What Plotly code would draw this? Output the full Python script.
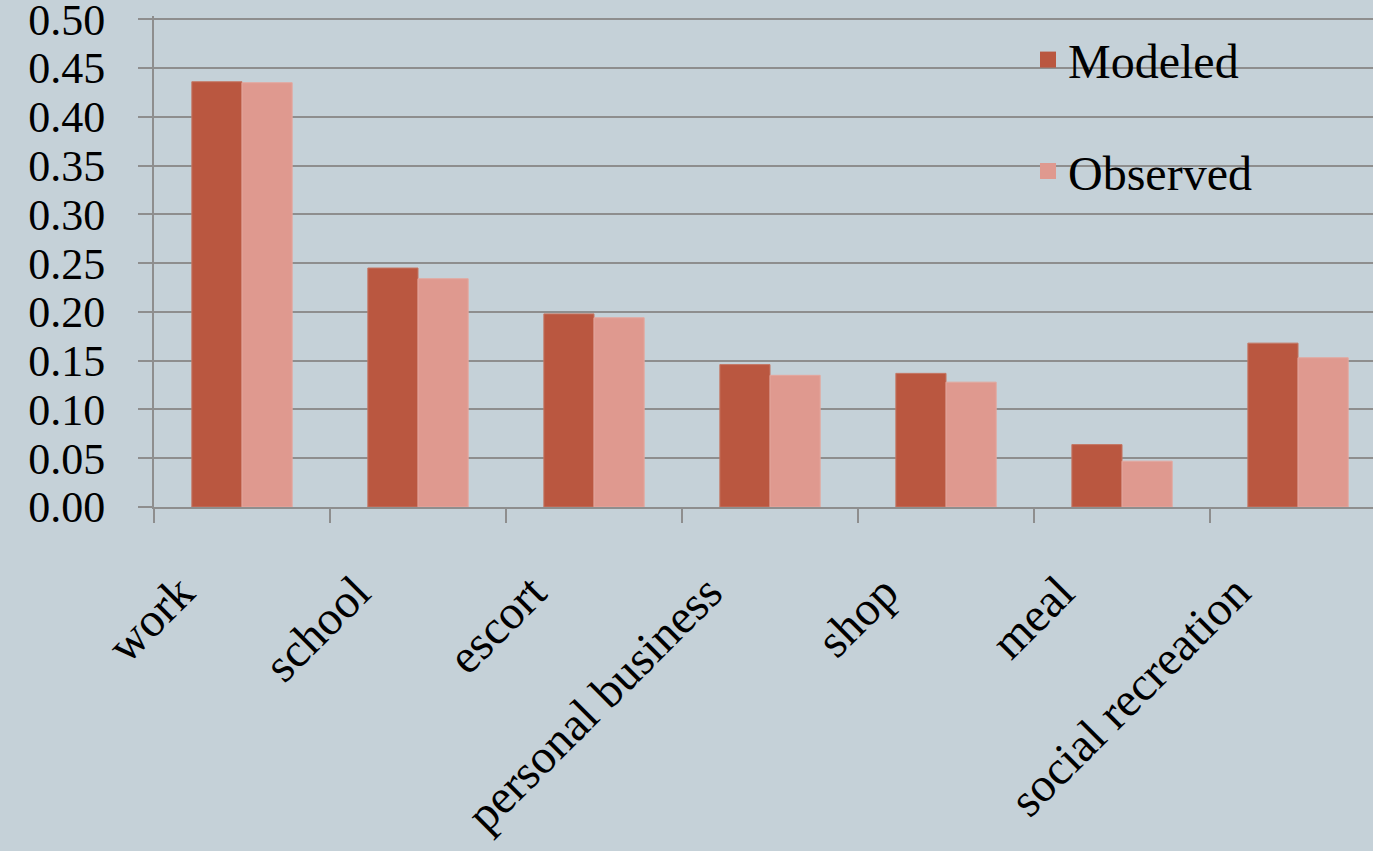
import plotly.graph_objects as go

categories = ["work", "school", "escort", "personal business", "shop", "meal", "social recreation"]
modeled = [0.436, 0.245, 0.198, 0.146, 0.137, 0.064, 0.168]
observed = [0.435, 0.234, 0.194, 0.135, 0.128, 0.047, 0.153]
y_ticks = [0.0, 0.05, 0.10, 0.15, 0.20, 0.25, 0.30, 0.35, 0.40, 0.45, 0.50]

C_MOD = "#BA5740"
C_OBS = "#DF998F"
BG = "#C5D1D8"
GRID = "#8E8E8E"
FONT = "Liberation Serif"

fig = go.Figure()
fig.add_trace(go.Bar(x=categories, y=modeled, name="Modeled", marker=dict(color=C_MOD, line=dict(color="#C47764", width=1)), showlegend=False))
fig.add_trace(go.Bar(x=categories, y=observed, name="Observed", marker=dict(color=C_OBS, line=dict(color="#E4A79E", width=1)), showlegend=False))
# legend entries
fig.add_trace(go.Scatter(x=[None], y=[None], mode="markers", name="Modeled",
                         marker=dict(symbol="square", size=25, color=C_MOD), legendgroup="a"))
fig.add_trace(go.Scatter(x=[None], y=[None], mode="markers", name="Observed",
                         marker=dict(symbol="square", size=25, color=C_OBS), legendgroup="b"))

fig.update_layout(
    width=1373, height=851,
    margin=dict(l=154, r=0, t=16, b=344, autoexpand=False),
    paper_bgcolor=BG, plot_bgcolor=BG,
    barmode="group", bargap=0.43, bargroupgap=0,
    font=dict(family=FONT, color="black", size=48),
    legend=dict(x=0.7170, y=0.988, xanchor="left", yanchor="top",
                bgcolor="rgba(0,0,0,0)", font=dict(size=48, family=FONT),
                traceorder="grouped", tracegroupgap=46, itemsizing="trace"),
)
fig.update_xaxes(
    type="category", range=[-0.5, 6.426], automargin=False,
    showgrid=False, showline=True, linecolor=GRID, linewidth=2,
    ticks="outside", tickson="boundaries", ticklen=14, tickcolor=GRID, tickwidth=2,
    tickangle=-45, tickfont=dict(size=48, family=FONT),
    ticklabelstandoff=36, ticklabelshift=-62,
)
fig.update_yaxes(
    range=[0, 0.5034], tickvals=y_ticks, tickformat=".2f", automargin=False,
    showgrid=True, gridcolor=GRID, gridwidth=2,
    showline=True, linecolor=GRID, linewidth=2,
    ticks="outside", ticklen=14, tickcolor=GRID, tickwidth=2,
    tickfont=dict(size=44, family=FONT), zeroline=False,
    ticklabelstandoff=24, ticklabeloverflow="allow",
)

fig.write_html("out.html")
